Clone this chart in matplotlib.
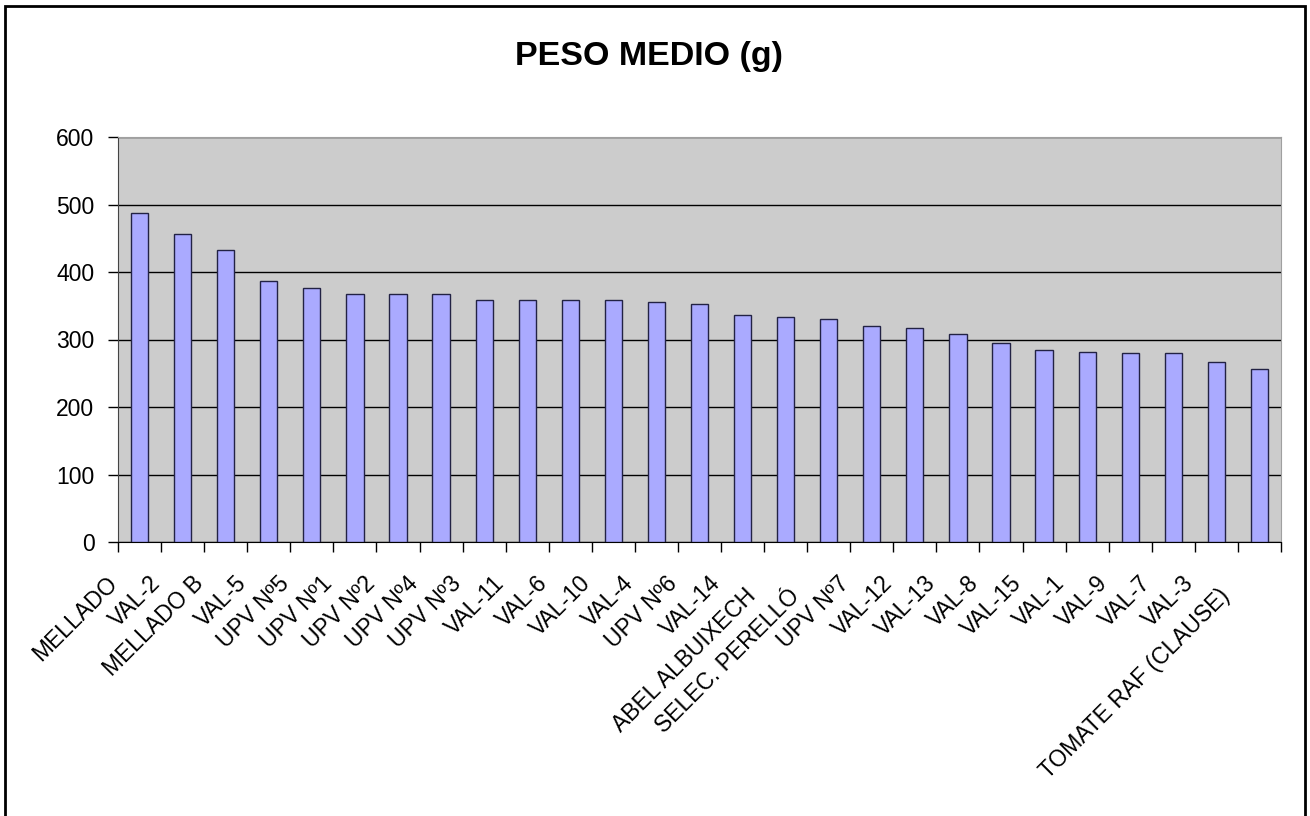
import numpy as np
import matplotlib
matplotlib.use('Agg')
import matplotlib.pyplot as plt
import matplotlib.transforms as mtransforms
from matplotlib.patches import Rectangle

# datos del gráfico
variedades = ['MELLADO', 'VAL-2', 'MELLADO B', 'VAL-5', 'UPV Nº5', 'UPV Nº1',
              'UPV Nº2', 'UPV Nº4', 'UPV Nº3', 'VAL-11', 'VAL-6', 'VAL-10',
              'VAL-4', 'UPV Nº6', 'VAL-14', 'ABEL ALBUIXECH', 'SELEC. PERELLÓ',
              'UPV Nº7', 'VAL-12', 'VAL-13', 'VAL-8', 'VAL-15', 'VAL-1', 'VAL-9',
              'VAL-7', 'VAL-3', 'TOMATE RAF (CLAUSE)']
peso_medio = [488, 457, 432, 387, 377, 368, 368, 368, 358, 358, 358, 358,
              355, 352, 336, 333, 330, 320, 317, 308, 295, 285, 282, 280,
              280, 267, 257]
y_ticks = [0, 100, 200, 300, 400, 500, 600]

plt.rcParams['font.family'] = ['Liberation Sans', 'DejaVu Sans']

fig = plt.figure(figsize=(13.1, 8.16), dpi=100)
ax = fig.add_axes([118 / 1310, 1 - 542 / 816, 1163 / 1310, 405 / 816])

x = np.arange(len(variedades))
ax.set_facecolor('#CCCCCC')
ax.bar(x, peso_medio, width=0.4, color='#AAAAFF', edgecolor='#222244',
       linewidth=1.0, zorder=3)

ax.set_xlim(-0.5, len(variedades) - 0.5)
ax.set_ylim(0, 600)
ax.set_yticks(y_ticks)
ax.yaxis.grid(True, color='black', linewidth=1.0, zorder=1)
ax.tick_params(axis='y', labelsize=16.5, length=7, width=1, direction='out', pad=10)

# marcas entre categorías, etiquetas centradas
ax.set_xticks(x)
ax.set_xticks(np.arange(len(variedades) + 1) - 0.5, minor=True)
ax.tick_params(axis='x', which='major', length=0, pad=10)
ax.tick_params(axis='x', which='minor', length=7, width=1, direction='out')
ax.set_xticklabels(variedades, rotation=45, ha='right', va='center',
                   rotation_mode='anchor', fontsize=16.5)
for lab in ax.get_xticklabels():
    dx, dy = -26, -24
    if len(lab.get_text()) >= 12:
        dx, dy = -33, -37
    off = mtransforms.ScaledTranslation(dx / 100, dy / 100, fig.dpi_scale_trans)
    lab.set_transform(lab.get_transform() + off)

for s in ['top', 'right']:
    ax.spines[s].set_color('#A0A0A0')
ax.spines['left'].set_color('#444444')
ax.spines['bottom'].set_color('black')

fig.text(649 / 1310, 1 - 56 / 816, 'PESO MEDIO (g)', ha='center', va='center',
         fontsize=24.5, fontweight='bold')

# marco exterior
fig.patches.append(Rectangle((5 / 1310, -0.05), 1300 / 1310, 1.05 - 6 / 816,
                             transform=fig.transFigure, fill=False,
                             edgecolor='black', linewidth=2))

plt.savefig('out.png', dpi=100)
